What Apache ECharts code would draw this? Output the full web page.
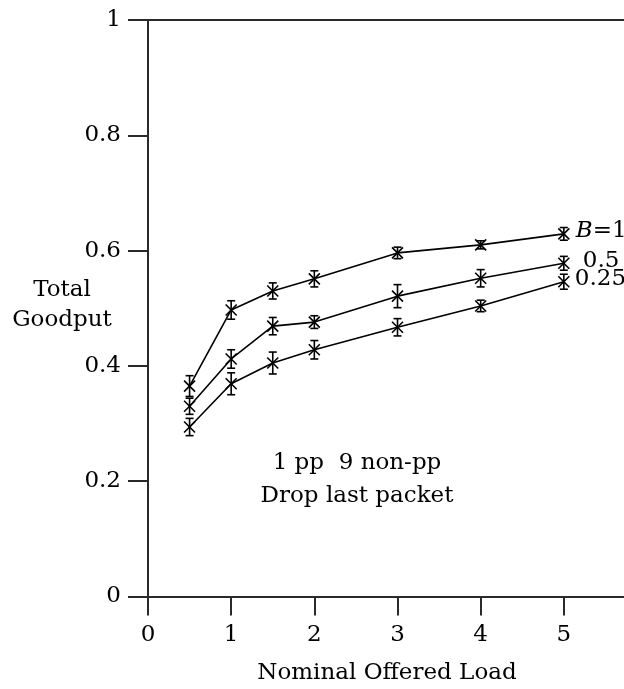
<!DOCTYPE html>
<html>
<head>
<meta charset="utf-8">
<script src="https://cdn.jsdelivr.net/npm/echarts@6/dist/echarts.min.js"></script>
<style>
  html, body { margin: 0; padding: 0; background: #fff; }
  #chart { width: 624px; height: 689px; }
</style>
</head>
<body>
<div id="chart"></div>
<script>
(function() {
	// offered load on the x axis
	var loads = [0.5, 1, 1.5, 2, 3, 4, 5];

	// goodput for each buffer setting, with half-width of error bars
	var goodB1 = [0.365, 0.497, 0.530, 0.551, 0.596, 0.610, 0.629];
	var errB1 = [0.018, 0.016, 0.014, 0.014, 0.010, 0.007, 0.011];
	var goodB05 = [0.330, 0.412, 0.469, 0.476, 0.521, 0.552, 0.578];
	var errB05 = [0.014, 0.016, 0.015, 0.011, 0.020, 0.015, 0.012];
	var goodB025 = [0.294, 0.369, 0.405, 0.428, 0.467, 0.504, 0.546];
	var errB025 = [0.015, 0.019, 0.019, 0.016, 0.015, 0.010, 0.013];

	var seriesNames = ['B=1', '0.5', '0.25'];

	var font = "'DejaVu Serif', serif";
	var ink = '#000';
	var axisInk = '#2a2a2a';
	var fs = 23;

	var myChart = echarts.init(document.getElementById('chart'));

	function pairs(vals) {
		return loads.map(function(x, i) { return [x, vals[i]]; });
	}

	function errData(vals, errs) {
		return loads.map(function(x, i) { return [x, vals[i], errs[i]]; });
	}

	// error bar with caps and an x marker at the mean
	function renderErr(params, api) {
		var x = api.value(0);
		var y = api.value(1);
		var e = api.value(2);
		var c = api.coord([x, y]);
		var lo = api.coord([x, y - e]);
		var hi = api.coord([x, y + e]);
		var cap = 4, m = 5.5;
		var style = { stroke: ink, lineWidth: 1.6 };
		return {
			type: 'group',
			children: [
				{ type: 'line', shape: { x1: c[0], y1: lo[1], x2: c[0], y2: hi[1] }, style: style },
				{ type: 'line', shape: { x1: c[0] - cap, y1: lo[1], x2: c[0] + cap, y2: lo[1] }, style: style },
				{ type: 'line', shape: { x1: c[0] - cap, y1: hi[1], x2: c[0] + cap, y2: hi[1] }, style: style },
				{ type: 'line', shape: { x1: c[0] - m, y1: c[1] - m, x2: c[0] + m, y2: c[1] + m }, style: style },
				{ type: 'line', shape: { x1: c[0] - m, y1: c[1] + m, x2: c[0] + m, y2: c[1] - m }, style: style }
			]
		};
	}

	function lineSeries(vals, label, offset) {
		return {
			name: label,
			type: 'line',
			data: pairs(vals),
			symbol: 'none',
			lineStyle: { color: ink, width: 1.6 },
			endLabel: {
				show: true,
				offset: offset,
				fontFamily: font,
				fontSize: fs,
				color: ink,
				formatter: function() {
					return label === 'B=1' ? '{i|B}=1' : label;
				},
				rich: {
					i: { fontFamily: font, fontSize: fs, fontStyle: 'italic', color: ink }
				}
			},
			animation: false,
			z: 2
		};
	}

	function errSeries(vals, errs) {
		return {
			type: 'custom',
			renderItem: renderErr,
			data: errData(vals, errs),
			encode: { x: 0, y: 1 },
			animation: false,
			z: 3
		};
	}

	var option = {
		backgroundColor: '#fff',
		animation: false,
		grid: { left: 148, top: 20, right: -23, bottom: 92.5, outerBoundsMode: 'none', containLabel: false },
		xAxis: [{
			type: 'value',
			min: 0,
			max: 6,
			interval: 1,
			position: 'bottom',
			axisLine: { onZero: false, lineStyle: { color: axisInk, width: 2 } },
			axisTick: { show: true, inside: false, length: 19, lineStyle: { color: axisInk, width: 2 } },
			axisLabel: { margin: 27, fontFamily: font, fontSize: fs, color: ink },
			splitLine: { show: false }
		}, {
			type: 'value',
			min: 0,
			max: 6,
			position: 'top',
			axisLine: { show: true, onZero: false, lineStyle: { color: axisInk, width: 2 } },
			axisTick: { show: false },
			axisLabel: { show: false },
			splitLine: { show: false }
		}],
		yAxis: {
			type: 'value',
			min: 0,
			max: 1,
			interval: 0.2,
			axisLine: { show: true, onZero: false, lineStyle: { color: axisInk, width: 2 } },
			axisTick: { show: true, inside: false, length: 20, lineStyle: { color: axisInk, width: 2 } },
			axisLabel: { margin: 27, fontFamily: font, fontSize: fs, color: ink },
			splitLine: { show: false }
		},
		graphic: [
			{
				type: 'text', x: 62, y: 305,
				style: { text: 'Total\nGoodput', fontFamily: font, fontSize: fs, fill: ink, align: 'center', verticalAlign: 'middle', lineHeight: 30 }
			},
			{
				type: 'text', x: 357, y: 480,
				style: { text: '1 pp  9 non-pp\nDrop last packet', fontFamily: font, fontSize: fs, fill: ink, align: 'center', verticalAlign: 'middle', lineHeight: 33 }
			},
			{
				type: 'text', x: 387, y: 673,
				style: { text: 'Nominal Offered Load', fontFamily: font, fontSize: fs, fill: ink, align: 'center', verticalAlign: 'middle' }
			}
		],
		series: [
			lineSeries(goodB1, seriesNames[0], [4, -3]),
			lineSeries(goodB05, seriesNames[1], [11, -2]),
			lineSeries(goodB025, seriesNames[2], [3, -3]),
			errSeries(goodB1, errB1),
			errSeries(goodB05, errB05),
			errSeries(goodB025, errB025)
		]
	};

	myChart.setOption(option);
})();
</script>
</body>
</html>
